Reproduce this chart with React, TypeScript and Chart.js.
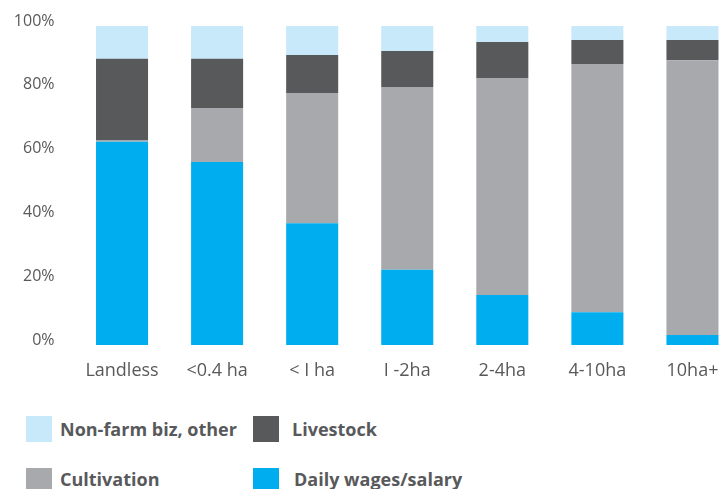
import React, { useEffect, useRef } from "react";
import { Chart, registerables } from "chart.js";

Chart.register(...registerables);

const categories = ["Landless", "<0.4 ha", "< I ha", "I -2ha", "2-4ha", "4-10ha", "10ha+"];
const dailyWages = [63.7, 57.4, 38.2, 23.6, 15.7, 10.3, 3.1];
const cultivation = [0.6, 16.9, 40.8, 57.3, 68.0, 77.8, 86.2];
const livestock = [25.4, 15.4, 11.9, 11.3, 11.3, 7.5, 6.3];
const nonFarm = [10.3, 10.3, 9.1, 7.8, 5.0, 4.4, 4.4];
const yTicks = [0, 20, 40, 60, 80, 100];

const seriesNames = ["Daily wages/salary", "Cultivation", "Livestock", "Non-farm biz, other"];
const seriesColors = ["#00AEEF", "#A7A9AC", "#58595B", "#C7E9F9"];

const legendItems = [
  { name: seriesNames[3], color: seriesColors[3], left: 26, top: 416, textLeft: 60, textTop: 416 },
  { name: seriesNames[2], color: seriesColors[2], left: 253, top: 416, textLeft: 292, textTop: 416 },
  { name: seriesNames[1], color: seriesColors[1], left: 26, top: 468, textLeft: 60, textTop: 466 },
  { name: seriesNames[0], color: seriesColors[0], left: 253, top: 468, textLeft: 294, textTop: 466 },
];

export default function App() {
  const ref = useRef<HTMLCanvasElement>(null);

  useEffect(() => {
    document.body.style.margin = "0";
    document.body.style.overflow = "hidden";
    const ctx = ref.current!;
    const data = [dailyWages, cultivation, livestock, nonFarm];
    const chart = new Chart(ctx, {
      type: "bar",
      data: {
        labels: categories,
        datasets: data.map((d, i) => ({
          label: seriesNames[i],
          data: d,
          backgroundColor: seriesColors[i],
          borderWidth: 0,
          barPercentage: 1,
          categoryPercentage: 52 / 95,
        })),
      },
      options: {
        animation: false,
        responsive: false,
        maintainAspectRatio: false,
        layout: { padding: { top: 26, left: 0, right: 0, bottom: 0 } },
        plugins: { legend: { display: false }, tooltip: { enabled: false } },
        scales: {
          x: {
            stacked: true,
            grid: { display: false, drawTicks: false },
            border: { display: false },
            ticks: {
              color: "#595959",
              font: { family: "'Open Sans'", size: 18 },
              padding: 15,
              maxRotation: 0,
              autoSkip: false,
            },
            afterFit: (s: any) => {
              s.height = 55;
            },
          },
          y: {
            stacked: true,
            min: 0,
            max: 100,
            grid: { display: false, drawTicks: false },
            border: { display: false },
            afterBuildTicks: (s: any) => {
              s.ticks = yTicks.map((v) => ({ value: v }));
            },
            ticks: {
              color: "#595959",
              font: { family: "'Open Sans'", size: 16 },
              padding: 20,
              labelOffset: -5,
              callback: (v: any) => v + "%",
            },
            afterFit: (s: any) => {
              s.width = 74.5;
              s.paddingTop = 0;
              s.paddingBottom = 0;
            },
          },
        },
      },
    });
    return () => chart.destroy();
  }, []);

  return (
    <div style={{ position: "relative", width: 719, height: 489, overflow: "hidden", background: "#fff" }}>
      <canvas ref={ref} width={740} height={400} style={{ position: "absolute", left: 0, top: 0, width: 740, height: 400 }} />
      {legendItems.map((it) => (
        <React.Fragment key={it.name}>
          <div style={{ position: "absolute", left: it.left, top: it.top, width: 26, height: 26, background: it.color }} />
          <div
            style={{
              position: "absolute",
              left: it.textLeft,
              top: it.textTop,
              height: 26,
              lineHeight: "26px",
              fontFamily: "'Open Sans', sans-serif",
              fontWeight: 700,
              fontSize: 18,
              color: "#58595B",
              whiteSpace: "nowrap",
            }}
          >
            {it.name}
          </div>
        </React.Fragment>
      ))}
    </div>
  );
}
